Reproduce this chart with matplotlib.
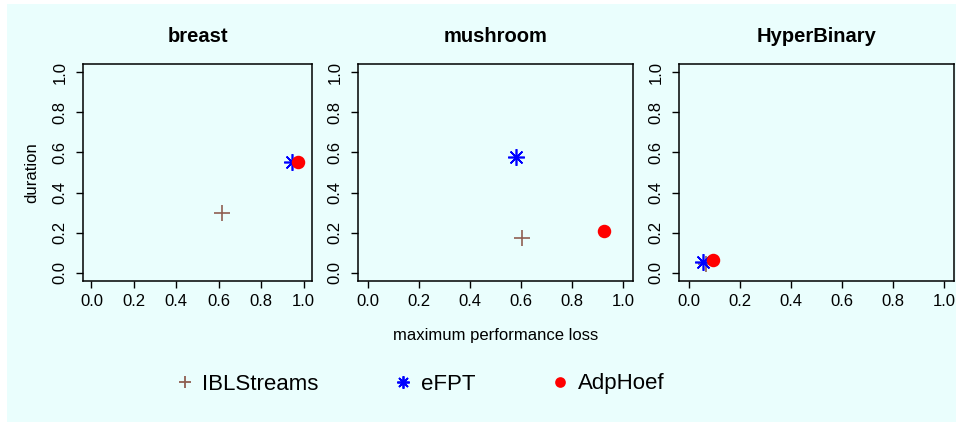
import matplotlib
matplotlib.use("Agg")
import matplotlib.pyplot as plt
from matplotlib.lines import Line2D
from matplotlib.patches import Rectangle

plt.rcParams['font.family'] = ['Liberation Sans', 'DejaVu Sans']

datasets = ["breast", "mushroom", "HyperBinary"]
methods = ["IBLStreams", "eFPT", "AdpHoef"]

# maximum performance loss per dataset, one list per method
loss_ibl = [0.615, 0.603, 0.065]
loss_efpt = [0.948, 0.579, 0.055]
loss_adp = [0.976, 0.925, 0.095]

# duration per dataset
dur_ibl = [0.298, 0.176, 0.046]
dur_efpt = [0.553, 0.579, 0.056]
dur_adp = [0.553, 0.210, 0.065]

ticks = [0.0, 0.2, 0.4, 0.6, 0.8, 1.0]
tick_labels = ["0.0", "0.2", "0.4", "0.6", "0.8", "1.0"]

colors = {"IBLStreams": "#8f5f52", "eFPT": "#0000ff", "AdpHoef": "#ff0000"}
markers = {"IBLStreams": "+", "eFPT": (8, 2, 0), "AdpHoef": "o"}
msize = {"IBLStreams": 12, "eFPT": 12, "AdpHoef": 8.5}

W, H = 962, 426
fig = plt.figure(figsize=(W / 100, H / 100), dpi=100)
fig.patch.set_facecolor("white")
bg = "#eafefd"
fig.patches.append(Rectangle((7 / W, 4 / H), 949 / W, 418 / H,
                             transform=fig.transFigure, facecolor=bg,
                             edgecolor="none", zorder=-1))

# panel boxes in pixels: left, right
boxes = [(83, 312), (358, 633), (679, 954)]
top, bottom = 64, 281

series = [
    ("IBLStreams", loss_ibl, dur_ibl),
    ("eFPT", loss_efpt, dur_efpt),
    ("AdpHoef", loss_adp, dur_adp),
]

axes = []
for i, name in enumerate(datasets):
    l, r = boxes[i]
    ax = fig.add_axes([l / W, (H - bottom) / H, (r - l) / W, (bottom - top) / H])
    ax.set_facecolor(bg)
    for m, xs, ys in series:
        ax.plot(xs[i], ys[i], linestyle="none", marker=markers[m],
                color=colors[m], markersize=msize[m], markeredgewidth=1.2,
                clip_on=False)
    ax.set_xlim(-0.04, 1.04)
    ax.set_ylim(-0.04, 1.04)
    ax.set_xticks(ticks)
    ax.set_xticklabels(tick_labels)
    ax.set_yticks(ticks)
    ax.set_yticklabels(tick_labels, rotation=90, va="center")
    ax.tick_params(direction="out", length=5, width=1, labelsize=12,
                   colors="black")
    ax.tick_params(axis="x", pad=4)
    ax.tick_params(axis="y", pad=6)
    for s in ax.spines.values():
        s.set_linewidth(1.1)
    ax.set_title(name, fontsize=14.5, fontweight="bold", pad=16)
    axes.append(ax)

axes[0].set_ylabel("duration", fontsize=12, labelpad=10)
axes[1].set_xlabel("maximum performance loss", fontsize=12, labelpad=14)

handles = [Line2D([], [], linestyle="none", marker=markers[m], color=colors[m],
                  markersize=msize[m] * 0.75, markeredgewidth=1.3)
           for m in methods]
fig.legend(handles, methods, loc="center", bbox_to_anchor=(420 / W, (H - 384) / H),
           ncol=3, frameon=False, fontsize=16, handlelength=0.8,
           handletextpad=0.4, columnspacing=3.4)

fig.savefig("out.png", dpi=100, facecolor="white")
